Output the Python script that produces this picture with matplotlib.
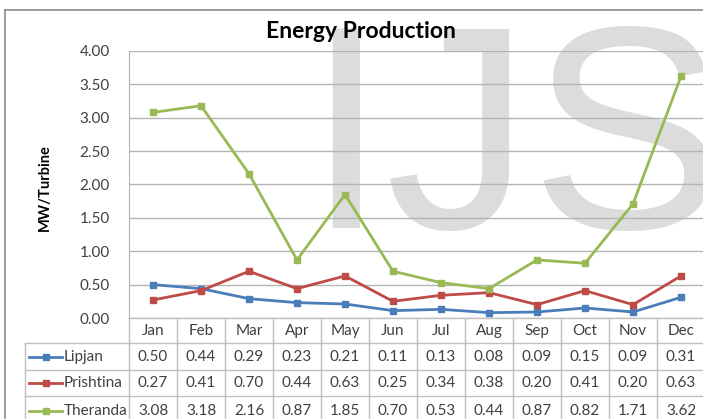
import matplotlib.pyplot as plt
import matplotlib.transforms as mtransforms
from matplotlib.lines import Line2D

months = ["Jan", "Feb", "Mar", "Apr", "May", "Jun", "Jul", "Aug", "Sep", "Oct", "Nov", "Dec"]
series_names = ["Lipjan", "Prishtina", "Theranda"]
lipjan = [0.50, 0.44, 0.29, 0.23, 0.21, 0.11, 0.13, 0.08, 0.09, 0.15, 0.09, 0.31]
prishtina = [0.27, 0.41, 0.70, 0.44, 0.63, 0.25, 0.34, 0.38, 0.20, 0.41, 0.20, 0.63]
theranda = [3.08, 3.18, 2.16, 0.87, 1.85, 0.70, 0.53, 0.44, 0.87, 0.82, 1.71, 3.62]
colors = ["#4A7EBB", "#BE4B48", "#98B954"]
yticks = [0.0, 0.5, 1.0, 1.5, 2.0, 2.5, 3.0, 3.5, 4.0]

plt.rcParams["font.family"] = ["Lato", "DejaVu Sans"]
W, H = 703, 419
fig = plt.figure(figsize=(W / 100, H / 100), dpi=100)

# plot area in pixels
left_px, right_px, top_px, bot_px = 129, 705, 51, 318
ax = fig.add_axes([left_px / W, 1 - bot_px / H, (right_px - left_px) / W, (bot_px - top_px) / H])
ax.patch.set_visible(False)

# watermark behind everything
fig.text(305 / W, 1 - 228 / H, "IJS", fontsize=209, color="#DCDCDC",
         family="Liberation Sans", ha="left", va="baseline", zorder=-5)

# chart border
fig.add_artist(Line2D([5 / W, 1.0], [1 - 10 / H, 1 - 10 / H], color="#8C8C8C", lw=1.2))
fig.add_artist(Line2D([5 / W, 5 / W], [0, 1 - 10 / H], color="#8C8C8C", lw=1.2))

x = list(range(len(months)))
data = [lipjan, prishtina, theranda]
for vals, c in zip(data, colors):
    ax.plot(x, vals, color=c, lw=2.0, marker="s", ms=4, zorder=3)

ax.set_xlim(-0.5, 11.5)
ax.set_ylim(0, 4)
ax.set_yticks(yticks)
ax.set_yticklabels([f"{v:.2f}" for v in yticks], fontsize=11, color="#404040")
ax.set_xticks([])
ax.tick_params(axis="y", length=0, pad=14)
ax.yaxis.grid(True, color="#B4B4B4", lw=1.0)
ax.set_axisbelow(True)
for s in ["top", "right", "bottom"]:
    ax.spines[s].set_visible(False)
ax.spines["left"].set_color("#B4B4B4")

fig.text(361 / W, 1 - 31 / H, "Energy Production", fontsize=16.5, fontweight="bold",
         ha="center", va="center")
fig.text(45 / W, 1 - 188 / H, "MW/Turbine", rotation=90, fontsize=10.5, fontweight="bold",
         ha="center", va="center", color="#000000")

# data table below the axis
ph = bot_px - top_px
pw = right_px - left_px
def ay(px):
    return -(px - bot_px) / ph
def ax_x(px):
    return (px - left_px) / pw

rows_px = [318, 343, 370, 396, 425]
tb = mtransforms.blended_transform_factory(ax.transData, ax.transAxes)
lc = "#BFBFBF"
for b in [i - 0.5 for i in range(len(months) + 1)]:
    ax.plot([b, b], [0, ay(rows_px[-1])], transform=tb, color=lc, lw=1, clip_on=False)
ax.plot([ax_x(25), ax_x(25)], [ay(rows_px[1]), ay(rows_px[-1])], transform=ax.transAxes,
        color=lc, lw=1, clip_on=False)
ax.plot([0, 1], [0, 0], transform=ax.transAxes, color=lc, lw=1, clip_on=False)
for r in rows_px[1:4]:
    ax.plot([ax_x(25), 1], [ay(r), ay(r)], transform=ax.transAxes, color=lc, lw=1, clip_on=False)

for i, m in enumerate(months):
    ax.text(i, ay((rows_px[0] + rows_px[1]) / 2), m, transform=tb, ha="center", va="center",
            fontsize=11, color="#404040", clip_on=False)
for j, (name, vals, c) in enumerate(zip(series_names, data, colors)):
    yc = ay((rows_px[j + 1] + rows_px[j + 2]) / 2)
    for i, v in enumerate(vals):
        ax.text(i, yc, f"{v:.2f}", transform=tb, ha="center", va="center",
                fontsize=11, color="#404040", clip_on=False)
    ax.plot([ax_x(29), ax_x(62)], [yc, yc], transform=ax.transAxes, color=c, lw=2.0, clip_on=False)
    ax.plot([ax_x(45.5)], [yc], transform=ax.transAxes, color=c, marker="s", ms=4, clip_on=False)
    ax.text(ax_x(64), yc, name, transform=ax.transAxes, ha="left", va="center",
            fontsize=11, color="#404040", clip_on=False)

fig.savefig("out.png", dpi=100)
